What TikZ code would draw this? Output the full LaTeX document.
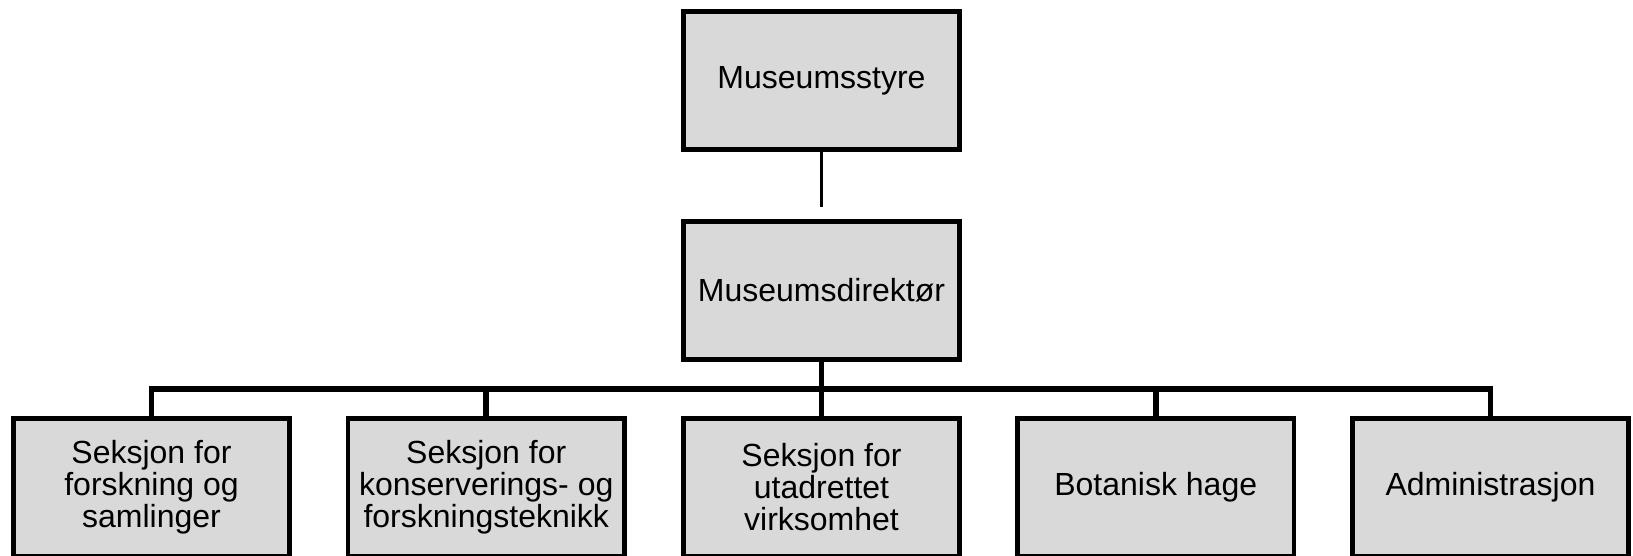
\documentclass[tikz,border=0pt]{standalone}
\usepackage{fontspec}
\setmainfont{Liberation Sans}
\begin{document}
\begin{tikzpicture}[x=1pt,y=-1pt,
  unit/.style={draw=black, fill=boxgrey, line width=4.7pt, rectangle,
    minimum width=276.3pt, minimum height=138.3pt, inner sep=0pt,
    align=center, font=\fontsize{32pt}{32pt}\selectfont},
  thinlink/.style={draw=black, line width=2.4pt},
  buslink/.style={draw=black, line width=5.8pt, line join=miter}]
\definecolor{boxgrey}{HTML}{D9D9D9}
\useasboundingbox (0,0) rectangle (1633,555);

% board and director
\node[unit] (board) at (821.5,80.5) {Museumsstyre};
\node[unit] (director) at (821.5,290.5) {Museumsdirektør};
\coordinate (boardend) at (821.5,207);
\draw[thinlink] (board.south) -- (boardend);

% sections
\node[unit] (s1) at (151.5,487.5) {Seksjon for\\forskning og\\samlinger};
\node[unit] (s2) at (486.25,487.5) {Seksjon for\\konserverings- og\\forskningsteknikk};
\node[unit] (s3) at (821.5,487.5) {Seksjon for\\utadrettet\\virksomhet};
\node[unit] (s4) at (1155.75,487.5) {Botanisk hage};
\node[unit] (s5) at (1490.5,487.5) {Administrasjon};

% distribution bar
\coordinate (bus) at (821.5,389);
\draw[buslink] (s1.north) |- (s5.north |- bus) -- (s5.north);
\draw[buslink] (s2.north) -- (s2.north |- bus);
\draw[buslink] (s4.north) -- (s4.north |- bus);
\draw[buslink] (director.south) -- (s3.north);
\end{tikzpicture}
\end{document}
